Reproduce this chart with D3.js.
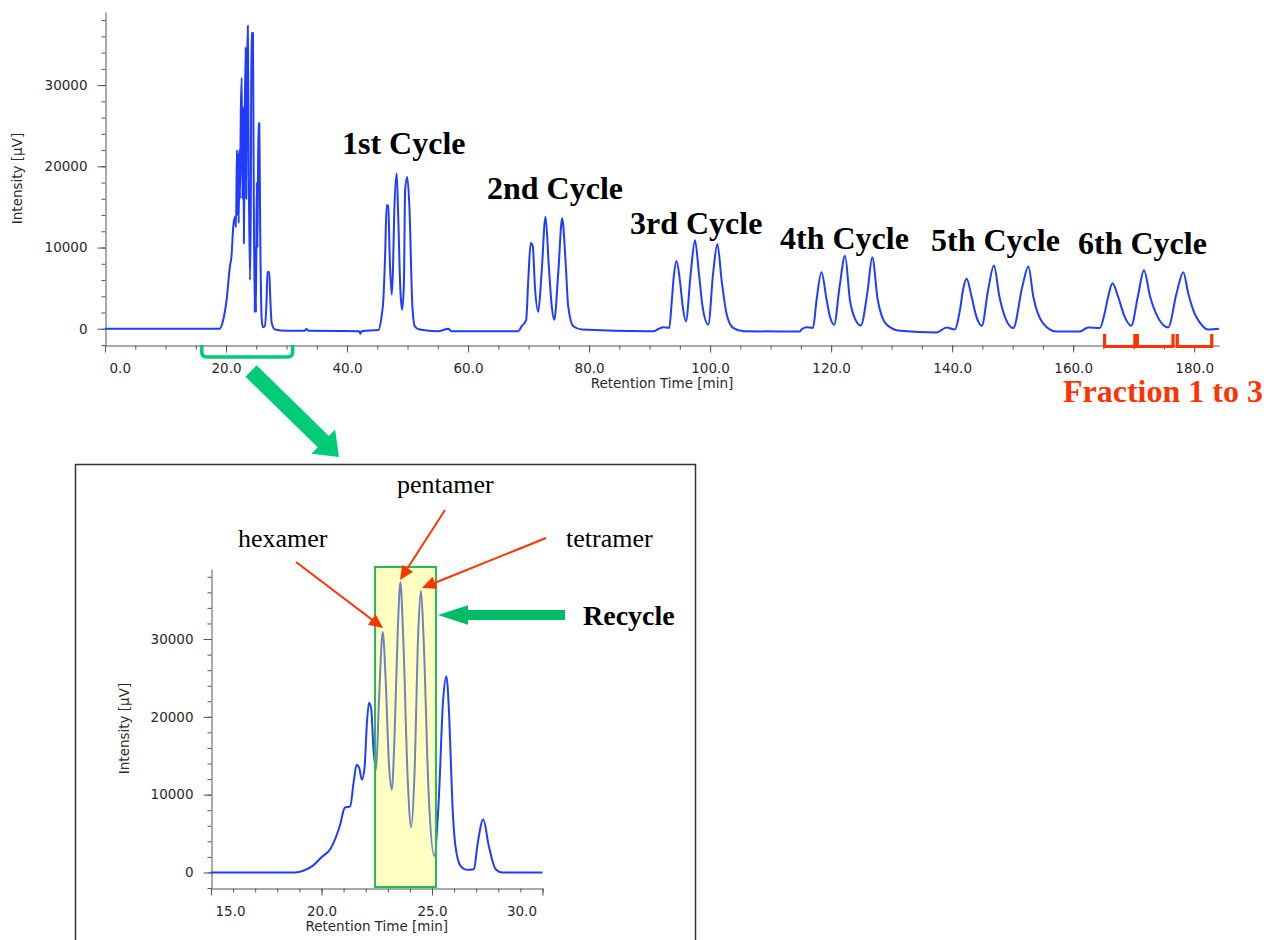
<!DOCTYPE html>
<html>
<head>
<meta charset="utf-8">
<script src="https://cdn.jsdelivr.net/npm/d3@7"></script>
<style>
  body { margin: 0; background: #fff; }
  svg text { font-family: "DejaVu Sans", Verdana, sans-serif; }
</style>
</head>
<body>
<div id="chart"></div>
<script>
// recycle run: [retention time (min), intensity (uV)]
var injection = [[0,0],[18.9,0],[19.55,1150],[20.1,3600],[20.65,7700],[20.9,8900],[21.2,12600],[21.5,13800],
  [21.65,12500],[21.8,22000],[21.9,14000],[22.0,21500],[22.1,13000],[22.2,22000],[22.3,16000],[22.45,27000],
  [22.6,30900],[22.7,16000],[22.85,27300],[22.95,10500],[23.1,26500],[23.25,34700],[23.35,16000],[23.45,30000],
  [23.6,37300],[23.75,20000],[23.96,6000],[24.1,16000],[24.2,36400],[24.45,36400],[24.55,22000],[24.74,2000],
  [24.85,10000],[24.95,2000],[25.07,18000],[25.2,10000],[25.35,25300],[25.5,25300],[25.65,12000],[25.9,1100],
  [26.1,200],[26.4,300],[26.7,3500],[26.85,7000],[27.15,7000],[27.3,4000],[27.55,700],[28.1,-100],[30,-250],
  [33.0,-250],[33.3,0],[33.6,-250],[42.0,-300],[42.2,-600],[42.4,-300],[45.2,-150]];
var cycle1 = [[45.7,1500],[46.0,3570],[46.27,8500],[46.55,15250],[46.8,15100],[47.1,7700],[47.4,4200],[47.6,7700],
  [47.8,14200],[48.2,19150],[48.46,13800],[48.8,5000],[49.1,2350],[49.4,5650],[49.6,17100],[49.95,18700],
  [50.3,15100],[50.8,2750],[51.2,300],[52.0,-100],[55.0,-300],[56.8,0],[57.2,-300],[68.3,-300]];
var cycle2 = [[68.85,300],[69.6,1100],[69.95,6000],[70.35,10550],[70.7,10150],[71.05,5200],[71.6,2100],[72.15,6850],
  [72.8,13800],[73.35,7650],[73.8,3000],[74.25,1100],[74.9,6850],[75.55,13600],[76.1,8500],[76.55,2750],
  [77.4,300],[78.8,-100],[89.5,-300]];
var cycle3 = [[90.6,-300],[92.25,200],[93.25,100],[93.6,2750],[94.0,6450],[94.45,8350],[95.0,6000],[95.5,2600],
  [96.0,900],[96.8,6850],[97.5,10900],[98.15,6850],[98.8,2500],[99.7,500],[100.5,6850],[101.2,10450],
  [101.9,6000],[102.7,1900],[103.8,100],[105.5,-300],[114.8,-350]];
var cycle4 = [[115.1,-100],[115.9,200],[117.0,100],[117.6,3600],[118.4,6950],[119.25,3600],[119.8,1500],[120.5,500],
  [121.4,5200],[122.3,9000],[123.1,3570],[123.9,1300],[124.9,400],[126.0,4500],[126.8,8800],[127.7,3570],
  [128.4,1500],[129.2,500],[131.4,-250],[137.4,-450]];
var cycle5 = [[139.1,150],[140.4,-100],[141.3,2350],[141.8,4800],[142.4,6150],[143.2,4000],[144.0,1500],[144.9,370],
  [145.95,4800],[146.9,7800],[147.8,4000],[148.8,1300],[150.1,80],[151.6,5200],[152.6,7650],[153.4,4000],
  [155.0,700],[157.2,-330],[161.1,-330]];
var cycle6 = [[162.5,170],[164.4,80],[165.2,1900],[165.8,4000],[166.5,5600],[167.4,4000],[168.5,1500],[169.6,370],
  [170.7,4000],[171.7,7200],[172.7,4000],[174.0,1400],[175.7,170],[177.1,4400],[178.2,6950],[179.0,4400],
  [180.0,2000],[181.0,700],[182.3,-100],[184.1,0]];

// close-up of the first elution
var closeUp = [[15,0],[18.8,0],[19.2,250],[19.6,850],[20.0,1950],[20.4,3000],[20.83,6000],[21.06,8350],[21.3,8500],
  [21.45,11500],[21.59,13850],[21.7,13500],[21.83,11930],[21.95,13500],[22.05,19000],[22.15,21820],[22.25,21000],
  [22.35,16000],[22.47,13200],[22.6,22000],[22.77,30900],[22.9,25000],[23.05,14000],[23.18,10650],[23.3,17000],
  [23.45,31000],[23.57,37300],[23.7,30000],[23.9,12000],[24.06,5800],[24.2,12000],[24.38,31000],[24.5,36200],
  [24.62,30000],[24.85,10000],[25.1,2120],[25.3,9000],[25.5,22000],[25.65,25230],[25.78,20000],[25.92,9000],
  [26.06,3400],[26.29,850],[26.6,330],[26.9,420],[27.05,3400],[27.32,6800],[27.57,3400],[27.88,420],[28.18,0],[30,0]];

var cycleNames = ["1st Cycle", "2nd Cycle", "3rd Cycle", "4th Cycle", "5th Cycle", "6th Cycle"];
var runTicks = [0, 20, 40, 60, 80, 100, 120, 140, 160, 180];
var closeTicks = [15, 20, 25, 30];
var intensityTicks = [0, 10000, 20000, 30000];
var fractions = [[165.2, 170.2], [170.6, 176.5], [177.2, 182.9]];
var recycleWindow = [16, 31];
var recycleCut = [22.42, 25.18];
var peakNames = ["hexamer", "pentamer", "tetramer"];

var blue = "#1f3cff", axisCol = "#555", txtCol = "#2a2a2a";

var svg = d3.select("#chart").append("svg")
    .attr("width", 1267)
    .attr("height", 940);

function drawAxes(g, x, y, opts) {
  var x0 = x.range()[0], yBase = y.range()[0];
  // minor x ticks
  g.append("g")
      .attr("transform", "translate(0," + (yBase + 0.5) + ")")
      .call(d3.axisBottom(x).tickValues(opts.xMinor).tickSize(4).tickFormat("").tickSizeOuter(0))
      .call(function(s) { s.select(".domain").remove(); });
  var xa = g.append("g")
      .attr("transform", "translate(0," + (yBase + 0.5) + ")")
      .call(d3.axisBottom(x).tickValues(opts.xMajor).tickSize(7).tickSizeOuter(0).tickFormat(d3.format(".1f")));
  xa.selectAll("text")
      .attr("y", 27).attr("dy", 0)
      .style("font-size", "13.5px").style("fill", txtCol);
  xa.selectAll(".tick text").each(function(d, i, n) {
    if (i == 0) d3.select(this).attr("text-anchor", "start").attr("x", 4);
    if (i == n.length - 1 && opts.lastEnd) d3.select(this).attr("text-anchor", "end").attr("x", -6);
  });
  // y axis
  g.append("g")
      .attr("transform", "translate(" + (x0 + 0.5) + ",0)")
      .call(d3.axisLeft(y).tickValues(d3.range(-2000, 39000, 2000)).tickSize(4).tickFormat("").tickSizeOuter(0))
      .call(function(s) { s.select(".domain").remove(); });
  var ya = g.append("g")
      .attr("transform", "translate(" + (x0 + 0.5) + ",0)")
      .call(d3.axisLeft(y).tickValues(intensityTicks).tickSize(8).tickPadding(10).tickSizeOuter(0).tickFormat(d3.format("d")));
  ya.selectAll("text").style("font-size", "13.5px").style("fill", txtCol);
  g.selectAll(".domain, .tick line").attr("stroke", axisCol);

  g.append("text")
      .attr("x", (x.range()[0] + x.range()[1]) / 2)
      .attr("y", yBase + 43)
      .attr("text-anchor", "middle")
      .style("font-size", "13.5px").style("fill", txtCol)
      .text("Retention Time [min]");
  g.append("text")
      .attr("transform", "translate(" + opts.yLabelX + "," + ((y.range()[0] + y.range()[1]) / 2) + ") rotate(-90)")
      .attr("text-anchor", "middle")
      .style("font-size", "13.5px").style("fill", txtCol)
      .text("Intensity [µV]");
}

function arrowShape(x1, y1, x2, y2, sw, hl, hw) {
  var dx = x2 - x1, dy = y2 - y1, len = Math.sqrt(dx * dx + dy * dy);
  var ux = dx / len, uy = dy / len, nx = -uy, ny = ux;
  var bx = x2 - ux * hl, by = y2 - uy * hl;
  var pts = [
    [x1 + nx * sw, y1 + ny * sw], [bx + nx * sw, by + ny * sw], [bx + nx * hw, by + ny * hw], [x2, y2],
    [bx - nx * hw, by - ny * hw], [bx - nx * sw, by - ny * sw], [x1 - nx * sw, y1 - ny * sw]
  ];
  return "M" + pts.map(function(p) { return p[0].toFixed(1) + "," + p[1].toFixed(1); }).join("L") + "Z";
}

// ---- main run ----
var x = d3.scaleLinear().domain([0, 184.1]).range([105, 1219]);
var y = d3.scaleLinear().domain([-2000, 39000]).range([345, 12]);
var runG = svg.append("g");

drawAxes(runG, x, y, { xMinor: d3.range(0, 185, 5), xMajor: runTicks, lastEnd: false, yLabelX: 22 });

var run = injection.concat(cycle1, cycle2, cycle3, cycle4, cycle5, cycle6);
var line = d3.line()
    .x(function(d) { return x(d[0]); })
    .y(function(d) { return y(d[1]); })
    .curve(d3.curveMonotoneX);

runG.append("path")
    .datum(run)
    .attr("d", line)
    .attr("fill", "none")
    .attr("stroke", blue)
    .attr("stroke-width", 2)
    .attr("stroke-linejoin", "round");

var labelPos = [[342, 154], [487, 199], [630, 234], [780, 249], [931, 251], [1078, 254]];
runG.selectAll(".cyc")
    .data(cycleNames)
    .enter().append("text")
    .attr("x", function(d, i) { return labelPos[i][0]; })
    .attr("y", function(d, i) { return labelPos[i][1]; })
    .style("font-family", "'Liberation Serif', 'Times New Roman', serif")
    .style("font-weight", "bold")
    .style("font-size", "32px")
    .style("fill", "#000")
    .text(function(d) { return d; });

// fraction brackets
runG.selectAll(".frac")
    .data(fractions)
    .enter().append("path")
    .attr("d", function(d) { return "M" + x(d[0]) + ",334V346.5H" + x(d[1]) + "V334"; })
    .attr("fill", "none")
    .attr("stroke", "#ff3300")
    .attr("stroke-width", 3.2);

runG.append("text")
    .attr("x", 1063).attr("y", 402)
    .style("font-family", "'Liberation Serif', 'Times New Roman', serif")
    .style("font-weight", "bold")
    .style("font-size", "32px")
    .style("fill", "#ff3300")
    .text("Fraction 1 to 3");

// recycle window bracket + arrow
var gx0 = x(recycleWindow[0]), gx1 = x(recycleWindow[1]);
runG.append("path")
    .attr("d", "M" + gx0 + ",345V352Q" + gx0 + ",357 " + (gx0 + 5) + ",357H" + (gx1 - 5) + "Q" + gx1 + ",357 " + gx1 + ",352V345")
    .attr("fill", "none")
    .attr("stroke", "#00cc77")
    .attr("stroke-width", 3.5);

svg.append("path")
    .attr("d", arrowShape(251, 371, 339, 457, 8, 22, 17))
    .attr("fill", "#00cc77");

// ---- close-up panel ----
svg.append("rect")
    .attr("x", 75.5).attr("y", 464.5)
    .attr("width", 620).attr("height", 500)
    .attr("fill", "#fff")
    .attr("stroke", "#333")
    .attr("stroke-width", 1.5);

var xi = d3.scaleLinear().domain([15, 30]).range([211, 542.5]);
var yi = d3.scaleLinear().domain([-2000, 39000]).range([888, 569]);
var inset = svg.append("g");

drawAxes(inset, xi, yi, { xMinor: d3.range(15, 31, 1), xMajor: closeTicks, lastEnd: true, yLabelX: 129 });

var lineI = d3.line()
    .x(function(d) { return xi(d[0]); })
    .y(function(d) { return yi(d[1]); })
    .curve(d3.curveMonotoneX);

inset.append("path")
    .datum(closeUp)
    .attr("d", lineI)
    .attr("fill", "none")
    .attr("stroke", blue)
    .attr("stroke-width", 2)
    .attr("stroke-linejoin", "round");

// recycled cut, yellow window laid over the trace
var bx0 = xi(recycleCut[0]), bx1 = xi(recycleCut[1]);
inset.append("rect")
    .attr("x", bx0).attr("y", 567)
    .attr("width", bx1 - bx0).attr("height", 320)
    .attr("fill", "rgb(255,255,84)")
    .attr("fill-opacity", 0.36)
    .attr("stroke", "#22bb55")
    .attr("stroke-width", 2);

var peakLab = [[238, 547], [397, 493], [566, 547]];
inset.selectAll(".pk")
    .data(peakNames)
    .enter().append("text")
    .attr("x", function(d, i) { return peakLab[i][0]; })
    .attr("y", function(d, i) { return peakLab[i][1]; })
    .style("font-family", "'Liberation Serif', 'Times New Roman', serif")
    .style("font-size", "26px")
    .style("fill", "#000")
    .text(function(d) { return d; });

var redArrows = [[296, 562, 383, 628], [445, 510, 400, 580], [546, 538, 422, 588]];
redArrows.forEach(function(a) {
  inset.append("path")
      .attr("d", arrowShape(a[0], a[1], a[2], a[3], 1, 14, 6.5))
      .attr("fill", "#ff3300");
});

inset.append("path")
    .attr("d", arrowShape(565, 615, 438, 615, 5, 30, 9.7))
    .attr("fill", "#00bb66");

inset.append("text")
    .attr("x", 583).attr("y", 625)
    .style("font-family", "'Liberation Serif', 'Times New Roman', serif")
    .style("font-weight", "bold")
    .style("font-size", "28px")
    .style("fill", "#000")
    .text("Recycle");
</script>
</body>
</html>
